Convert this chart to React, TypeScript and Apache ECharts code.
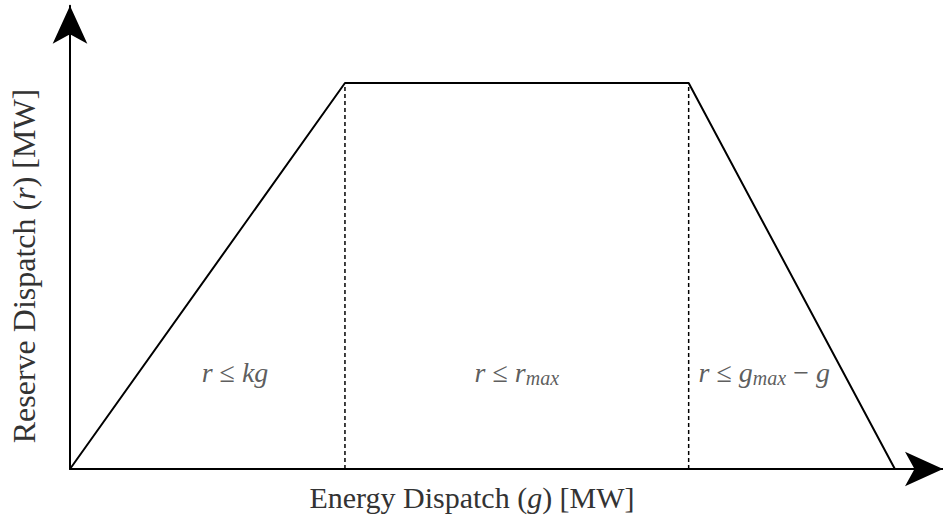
import React, { useEffect, useRef } from "react";
import * as echarts from "echarts";

// Feasible region boundary: energy dispatch g vs. reserve dispatch r
const boundaryG = [0, 40, 90, 120];
const boundaryR = [0, 40, 40, 0];

// Breakpoints where the active constraint changes
const breakG = [40, 90];
const rMax = 40;

// Constraint labels and where they sit (g, r)
const regionLabels = [
  "{i|r}{n|≤}{i|kg}",
  "{i|r}{n|≤}{i|r}{s|max}",
  "{i|r}{n|≤}{i|g}{s|max}{n|−}{i|g}",
];
const labelG = [24, 65, 101];
const labelR = [10, 10, 10];

const xTitle = "{n|Energy Dispatch (}{i|g}{n|) [MW]}";
const yTitle = "{n|Reserve Dispatch (}{i|r}{n|) [MW]}";

const FONT = "Liberation Serif";
const TEXT = "#333";

function titleRich(size: number) {
  return {
    n: { fontFamily: FONT, fontSize: size, fill: TEXT },
    i: { fontFamily: FONT, fontSize: size, fontStyle: "italic", fill: TEXT },
  };
}

// Math-style label pieces: italic symbols, upright relations, small subscripts
const labelRich = {
  i: { fontFamily: FONT, fontStyle: "italic", fontSize: 28, color: TEXT },
  n: { fontFamily: FONT, fontSize: 28, color: TEXT, padding: [0, 7, 0, 7] },
  s: {
    fontFamily: FONT,
    fontStyle: "italic",
    fontSize: 20,
    color: TEXT,
    verticalAlign: "top",
    padding: [10, 0, 0, 0],
  },
};

export default function App() {
  const ref = useRef<HTMLDivElement>(null);

  useEffect(() => {
    if (!ref.current) return;
    const chart = echarts.init(ref.current, null, { renderer: "svg" });

    const axisCommon = {
      type: "value" as const,
      min: 0,
      axisLine: {
        show: true,
        onZero: true,
        symbol: ["none", "arrow"],
        symbolSize: [26, 38],
        lineStyle: { color: "#000", width: 2 },
      },
      axisTick: { show: false },
      axisLabel: { show: false },
      splitLine: { show: false },
    };

    const dashed = breakG.map((g) => ({
      type: "line" as const,
      data: [
        [g, 0],
        [g, rMax],
      ],
      symbol: "none",
      silent: true,
      z: 1,
      lineStyle: { color: "#000", width: 1.5, type: [4, 3] },
    }));

    chart.setOption({
      animation: false,
      grid: { left: 70, right: 0, top: 5.8, bottom: 60 },
      xAxis: { ...axisCommon, max: 127 },
      yAxis: { ...axisCommon, max: 48 },
      series: [
        {
          type: "line",
          data: boundaryG.map((g, i) => [g, boundaryR[i]]),
          symbol: "none",
          silent: true,
          z: 3,
          lineStyle: { color: "#000", width: 2 },
        },
        ...dashed,
        {
          type: "scatter",
          symbolSize: 0,
          silent: true,
          z: 4,
          data: labelG.map((g, i) => ({
            value: [g, labelR[i]],
            label: {
              show: true,
              formatter: regionLabels[i],
              rich: labelRich,
            },
          })),
        },
      ],
      graphic: [
        {
          type: "text",
          x: 472,
          y: 497,
          style: {
            text: xTitle,
            fontFamily: FONT,
            fontSize: 30,
            fill: TEXT,
            align: "center",
            verticalAlign: "middle",
            rich: titleRich(30),
          },
        },
        {
          type: "text",
          x: 24,
          y: 266,
          rotation: Math.PI / 2,
          style: {
            text: yTitle,
            fontFamily: FONT,
            fontSize: 32,
            fill: TEXT,
            align: "center",
            verticalAlign: "middle",
            rich: titleRich(32),
          },
        },
      ],
    });

    return () => chart.dispose();
  }, []);

  return (
    <div
      ref={ref}
      style={{ position: "fixed", left: 0, top: 0, width: 943, height: 529, background: "#fff" }}
    />
  );
}
